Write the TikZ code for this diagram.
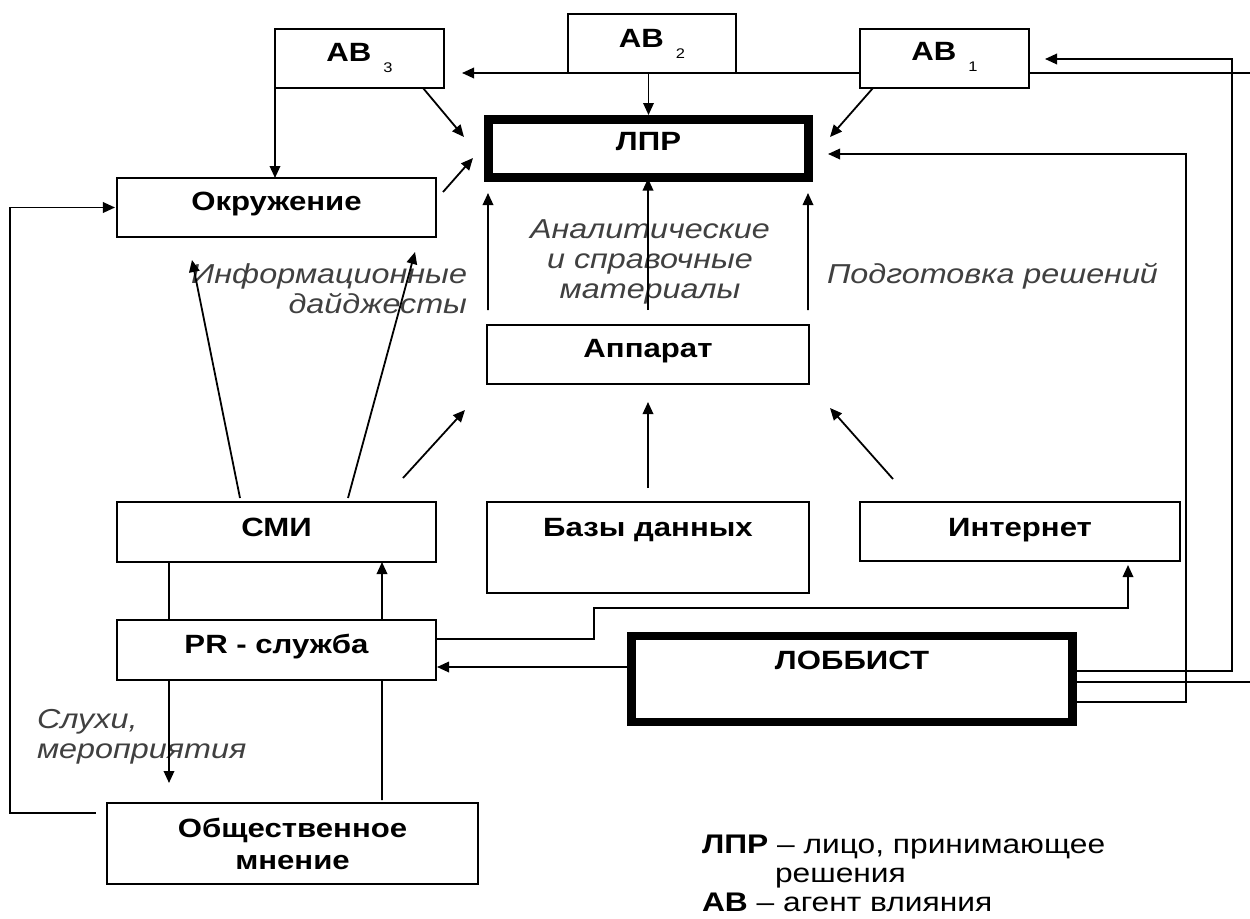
\documentclass[tikz,border=0pt]{standalone}
\usepackage{fontspec}
\setmainfont{Liberation Sans}[FakeStretch=1.18]
\usetikzlibrary{arrows.meta,calc}
\newcommand\mybf{\fontsize{26.5}{31}\selectfont\bfseries}
\newcommand\myit{\fontsize{27.5}{31}\selectfont\itshape}
\newcommand\myleg{\fontsize{27}{31}\selectfont}
\newcommand\myab[1]{АВ\hspace{12bp}\raisebox{-11bp}{\fontsize{14}{16}\selectfont\mdseries #1}}
\tikzset{
  box/.style 2 args={draw, line width=1.8bp, minimum width=#1, minimum height=#2,
     inner sep=0pt, outer sep=0pt, font=\mybf, anchor=center},
  lab/.style={inner sep=0pt, outer sep=0pt, font=\myit, text=black!75},
  leg/.style={inner sep=0pt, outer sep=0pt, font=\myleg},
  conn/.style={line width=1.8bp},
  arr/.style={line width=1.8bp, -{Triangle[length=12bp,width=10.5bp]}}
}
\begin{document}
\begin{tikzpicture}[x=1bp,y=-1bp]
\fill[white] (0,0) rectangle (1250,919);
\useasboundingbox (0,0) rectangle (1250,919);

% boxes
\node[box={169bp}{59bp}, text height=32bp, text depth=27bp] (ab3) at (359.5,58.5) {\myab{3}};
\node[box={168bp}{59bp}, text height=33bp, text depth=26bp] (ab2) at (652,43.5) {\myab{2}};
\node[box={169bp}{59bp}, text height=31bp, text depth=28bp] (ab1) at (944.5,58.5) {\myab{1}};
\node[box={320bp}{58bp}, line width=9bp, text height=30.5bp, text depth=27.5bp] (lpr) at (648.5,148.5) {ЛПР};
\node[box={319bp}{59bp}, text height=32bp, text depth=27bp] (okr) at (276.5,207.5) {Окружение};
\node[box={322bp}{59bp}, text height=32bp, text depth=27bp] (app) at (648,354.5) {Аппарат};
\node[box={319bp}{60bp}, text height=34bp, text depth=26bp] (smi) at (276.5,532) {СМИ};
\node[box={322bp}{91bp}, text height=34bp, text depth=57bp] (bd) at (648,547.5) {Базы данных};
\node[box={320bp}{59bp}, text height=34bp, text depth=25bp] (inet) at (1020,531.5) {Интернет};
\node[box={319bp}{60bp}, text height=33bp, text depth=27bp] (pr) at (276.5,650) {PR - служба};
\node[box={441bp}{86bp}, line width=8.5bp, text height=33bp, text depth=53bp] (lob) at (852,679) {ЛОББИСТ};
\node[box={371bp}{81bp}, align=center] (obs) at (292.5,843.5) {Общественное\\[1bp]мнение};

% free ends at the right edge
\coordinate (edgeT) at (1250,73);
\coordinate (edgeB) at (1250,682);

% labels
\node[lab, anchor=base east] (info1) at (467,283) {Информационные};
\node[lab, anchor=base east] (info2) at (467,313) {дайджесты};
\node[lab, anchor=base] (an1) at (650,238) {Аналитические};
\node[lab, anchor=base] (an2) at (650,268) {и справочные};
\node[lab, anchor=base] (an3) at (650,298) {материалы};
\node[lab, anchor=base west] (pod) at (827,283) {Подготовка решений};
\node[lab, anchor=base west] (sl1) at (37,728) {Слухи,};
\node[lab, anchor=base west] (sl2) at (37,758) {мероприятия};

% legend
\node[leg, anchor=base west] (lg1) at (702,853) {\textbf{ЛПР} – лицо, принимающее};
\node[leg, anchor=base west] (lg2) at (775,882) {решения};
\node[leg, anchor=base west] (lg3) at (702,911) {\textbf{АВ} – агент влияния};

% top connectors
\draw[arr, shorten >=18bp] (ab1.west |- ab2.south) -- (ab3.east |- ab2.south);
\draw[conn] (edgeT) -- (ab1.east |- edgeT);
\draw[arr, shorten >=4.5bp] (ab2.south -| lpr.north) -- (lpr.north);
\draw[arr] (ab3.south west) -- (ab3.south west |- okr.north);
\draw[arr] ($(ab3.south east)+(-21,0)$) -- ($(lpr.north west)+(-24.5,17.5)$);
\draw[arr] ($(okr.east)+(7,-15.5)$) -- ($(lpr.west)+(-15.5,9.5)$);
\draw[arr] ($(ab1.south west)+(13,0)$) -- ($(lpr.north east)+(21.5,17.5)$);

% lobbyist connectors on the right
\draw[arr] ($(lob.east)+(0,23)$) -| ($(lpr.east)+(377.5,5.5)$) -- ($(lpr.east)+(19.5,5.5)$);
\draw[arr] ($(lob.east)+(0,-8)$) -| ($(ab1.east)+(203,0.5)$) -- ($(ab1.east)+(16,0.5)$);
\draw[conn] ($(lob.east)+(0,3)$) -- (edgeB);

% Apparat -> LPR
\draw[arr] ($(app.north west)+(1,-15)$) -- ($(lpr.south west)+(-0.5,15.5)$);
\draw[arr] ($(app.north)+(0,-15)$) -- ($(app.north)+(0,-146.5)$);
\draw[arr] ($(app.north east)+(-1,-15)$) -- ($(lpr.south east)+(-0.5,15.5)$);

% sources -> Apparat
\draw[arr] ($(bd.north)+(0,-14)$) -- ($(app.south)+(0,18)$);
\draw[arr] ($(smi.north east)+(-33,-24)$) -- ($(app.south west)+(-22,26)$);
\draw[arr] ($(inet.north west)+(33,-23)$) -- ($(app.south east)+(21,24)$);

% SMI -> Okruzhenie
\draw[arr] ($(smi.north)+(-36.5,-4)$) -- ($(okr.south)+(-84.5,23)$);
\draw[arr] ($(smi.north)+(71.5,-4)$) -- ($(okr.south east)+(-21,15)$);

% SMI / PR / public opinion
\draw[conn] ($(smi.south west)+(52,0)$) -- ($(pr.north west)+(52,0)$);
\draw[arr] ($(pr.north west)+(265,0)$) -- ($(smi.south west)+(265,0)$);
\draw[arr] ($(pr.south west)+(52,0)$) -- ($(obs.north west)+(62,-20)$);
\draw[conn] ($(obs.north west)+(275,-3)$) -- ($(pr.south west)+(265,0)$);
\draw[arr] ($(obs.north west)+(-11,10)$) -- ++(-86,0) |- ($(okr.west)+(-2,0)$);

% PR -> Internet, lobbyist -> PR
\draw[arr] ($(pr.east)+(0,-11)$) -- ++(158,0) -- ++(0,-31) -| ($(inet.south)+(108,4)$);
\draw[arr] ($(lob.west)+(0,-12)$) -- ($(pr.east)+(1,17)$);
\end{tikzpicture}
\end{document}
